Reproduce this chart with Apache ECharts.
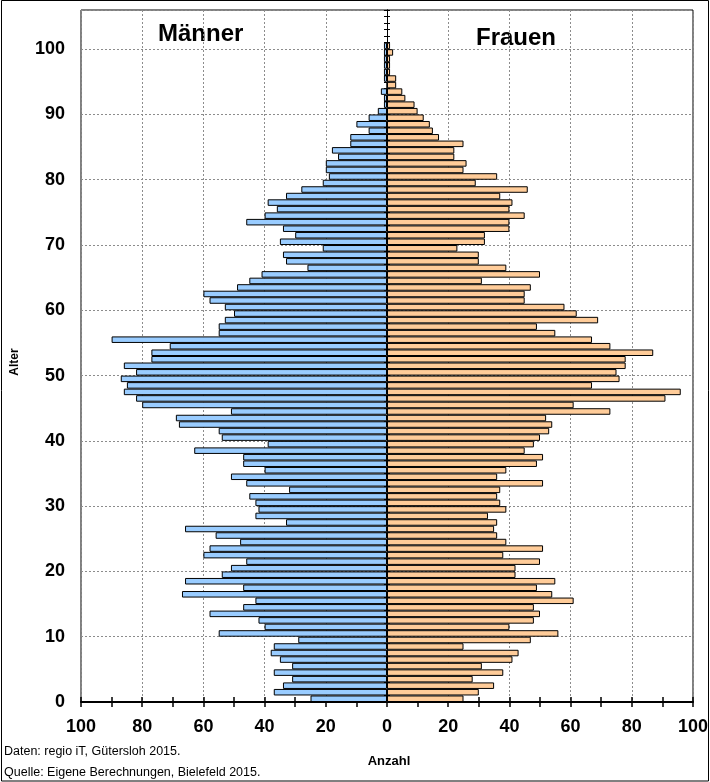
<!DOCTYPE html>
<html>
<head>
<meta charset="utf-8">
<script src="https://cdn.jsdelivr.net/npm/echarts@6/dist/echarts.min.js"></script>
<style>
  html, body { margin: 0; padding: 0; background: #fff; }
  #chart { width: 710px; height: 782px; }
</style>
</head>
<body>
<div id="chart"></div>
<script>
// Alter 0..100 (Kategorien bis 105, damit oben Platz bleibt)
var ages = [];
for (var i = 0; i <= 105; i++) ages.push(String(i));

// Männer, Alter 0..100
var maenner = [
  25, 37, 34, 31, 37, 31, 35, 38, 37, 29,
  55, 40, 42, 58, 47, 43, 67, 47, 66, 54,
  51, 46, 60, 58, 48, 56, 66, 33, 43, 42,
  43, 45, 32, 46, 51, 40, 47, 47, 63, 39,
  54, 55, 68, 69, 51, 80, 82, 86, 85, 87,
  82, 86, 77, 77, 71, 90, 55, 55, 53, 50,
  53, 58, 60, 49, 45, 41, 26, 33, 34, 21,
  35, 30, 34, 46, 40, 36, 39, 33, 28, 21,
  19, 20, 20, 16, 18, 12, 12, 6, 10, 6,
  3, 1, 1, 2, 0, 1, 1, 1, 1, 1,
  1
];

// Frauen, Alter 0..100
var frauen = [
  25, 30, 35, 28, 38, 31, 41, 43, 25, 47,
  56, 40, 48, 50, 48, 61, 54, 49, 55, 42,
  42, 50, 38, 51, 39, 36, 35, 36, 33, 39,
  37, 36, 37, 51, 36, 39, 49, 51, 45, 48,
  50, 53, 54, 52, 73, 61, 91, 96, 67, 76,
  75, 78, 78, 87, 73, 67, 55, 49, 69, 62,
  58, 45, 45, 47, 31, 50, 39, 30, 30, 23,
  32, 32, 40, 40, 45, 40, 41, 37, 46, 29,
  36, 25, 26, 22, 22, 25, 17, 15, 14, 12,
  10, 9, 6, 5, 3, 3, 1, 1, 1, 2,
  1
];

var FONT = "'Liberation Sans', Arial, sans-serif";
var gridDash = { color: '#8c8c8c', width: 1, type: [2, 2] };

var myChart = echarts.init(document.getElementById('chart'));

var option = {
  animation: false,
  backgroundColor: '#fff',
  textStyle: { fontFamily: FONT },
  grid: {
    left: 81, right: 17, top: 10, bottom: 80,
    show: true, borderColor: '#000', borderWidth: 1,
    containLabel: false, outerBoundsMode: 'none'
  },
  xAxis: [
    {
      type: 'value', min: -100, max: 100, interval: 10, position: 'bottom',
      axisLine: { show: true, onZero: false, lineStyle: { color: '#000', width: 2 } },
      axisTick: { show: true, length: 5, lineStyle: { color: '#000', width: 1.5 } },
      axisLabel: {
        color: '#000', fontWeight: 'bold', fontSize: 18, fontFamily: FONT, margin: 16,
        formatter: function (v) { return v % 20 === 0 ? String(Math.abs(v)) : ''; }
      },
      splitLine: { show: false }
    },
    {
      type: 'value', min: -100, max: 100, interval: 10, position: 'bottom',
      axisLine: { show: false, onZero: false },
      axisTick: { show: true, inside: true, length: 5, lineStyle: { color: '#000', width: 1.5 } },
      axisLabel: { show: false },
      splitLine: { show: false }
    },
    {
      type: 'value', min: -100, max: 100, interval: 20, position: 'bottom',
      axisLine: { show: false, onZero: false },
      axisTick: { show: false },
      axisLabel: { show: false },
      splitLine: { show: true, lineStyle: gridDash }
    }
  ],
  yAxis: [
    {
      type: 'category', data: ages, position: 'left',
      axisLine: { show: true, onZero: true, lineStyle: { color: '#000', width: 1 } },
      axisTick: { show: true, interval: 0, length: 3, lineStyle: { color: '#000' } },
      axisLabel: { show: false },
      splitLine: { show: false }
    },
    {
      type: 'category', data: ages, position: 'left',
      axisLine: { show: true, onZero: true, lineStyle: { color: '#000', width: 1 } },
      axisTick: { show: true, inside: true, interval: 0, length: 3, lineStyle: { color: '#000' } },
      axisLabel: { show: false },
      splitLine: { show: false }
    },
    {
      type: 'value', min: 0, max: 106, interval: 10, position: 'left',
      axisLine: { show: false, onZero: false },
      axisTick: { show: false },
      axisLabel: {
        color: '#000', fontWeight: 'bold', fontSize: 18, fontFamily: FONT, margin: 16,
        showMaxLabel: false,
        formatter: function (v) { return v % 10 === 0 ? String(v) : ''; }
      },
      splitLine: { show: true, lineStyle: gridDash }
    }
  ],
  series: [
    {
      name: 'Männer', type: 'bar', xAxisIndex: 0, yAxisIndex: 0,
      data: maenner.map(function (v) { return -v; }),
      barWidth: '100%', barGap: '-100%',
      itemStyle: { color: '#99ccff', borderColor: '#000', borderWidth: 1 }
    },
    {
      name: 'Frauen', type: 'bar', xAxisIndex: 0, yAxisIndex: 0,
      data: frauen,
      barWidth: '100%', barGap: '-100%',
      itemStyle: { color: '#ffcc99', borderColor: '#000', borderWidth: 1 }
    }
  ],
  graphic: [
    {
      type: 'rect', silent: true, z: 100,
      shape: { x: 1.5, y: 0.5, width: 707, height: 780.5 },
      style: { fill: 'none', stroke: '#000', lineWidth: 1 }
    },
    {
      type: 'text', left: 158, top: 22,
      style: { text: 'Männer', font: 'bold 24px ' + FONT, fill: '#000' }
    },
    {
      type: 'text', left: 476, top: 26,
      style: { text: 'Frauen', font: 'bold 24px ' + FONT, fill: '#000' }
    },
    {
      type: 'text', x: 15, y: 362, rotation: Math.PI / 2,
      style: { text: 'Alter', font: 'bold 12px ' + FONT, fill: '#000', align: 'center', verticalAlign: 'middle' }
    },
    {
      type: 'text', x: 389, y: 761,
      style: { text: 'Anzahl', font: 'bold 13px ' + FONT, fill: '#000', align: 'center', verticalAlign: 'middle' }
    },
    {
      type: 'text', x: 4, y: 752,
      style: { text: 'Daten: regio iT, Gütersloh 2015.', font: '12.5px ' + FONT, fill: '#000', verticalAlign: 'middle' }
    },
    {
      type: 'text', x: 4, y: 773,
      style: { text: 'Quelle: Eigene Berechnungen, Bielefeld 2015.', font: '12.5px ' + FONT, fill: '#000', verticalAlign: 'middle' }
    }
  ]
};

myChart.setOption(option);
</script>
</body>
</html>
